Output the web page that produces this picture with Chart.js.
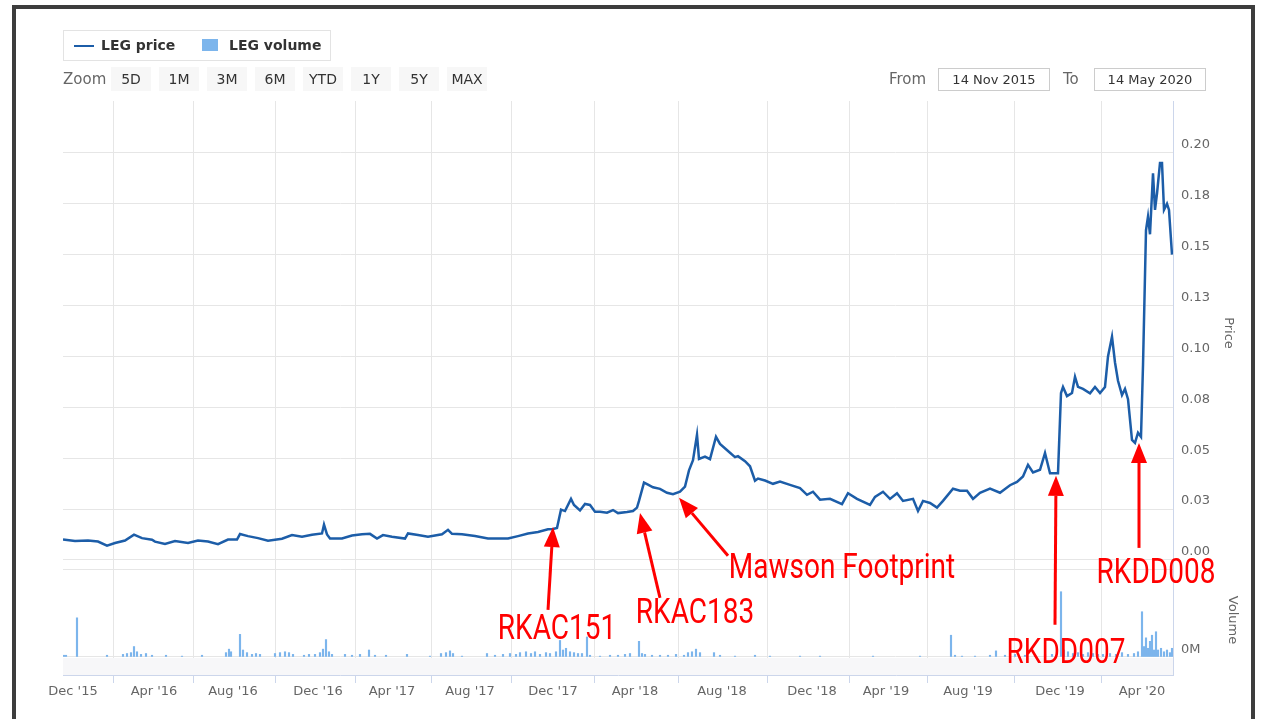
<!DOCTYPE html>
<html>
<head>
<meta charset="utf-8">
<script src="https://cdn.jsdelivr.net/npm/chart.js@4.4.1/dist/chart.umd.min.js"></script>
<style>
  html, body { margin: 0; padding: 0; background: #fff; }
  body { width: 1266px; height: 719px; position: relative; overflow: hidden; font-family: "DejaVu Sans", sans-serif; }
  #frame { position: absolute; left: 12px; top: 5px; width: 1235px; height: 760px; border: 4px solid #3d3d3d; }
  #chart { position: absolute; left: 0; top: 0; }
  .legend { position: absolute; left: 63px; top: 30px; width: 266px; height: 29px; border: 1px solid #e3e3e3; background: #fff; font-size: 14px; font-weight: bold; color: #333; }
  .legend span { position: absolute; top: 6px; }
  .lg-line { position: absolute; left: 10px; top: 14px; width: 20px; height: 2px; background: #1c5da8; }
  .lg-box { position: absolute; left: 138px; top: 8px; width: 16px; height: 12px; background: #7cb5ec; }
  .zoomrow { position: absolute; top: 67px; font-size: 15px; color: #666; }
  .btn { position: absolute; top: 67px; height: 24px; line-height: 24px; background: #f7f7f7; color: #333; font-size: 14px; text-align: center; }
  .inp { position: absolute; top: 68px; height: 21px; line-height: 21px; border: 1px solid #ccc; color: #333; font-size: 13px; text-align: center; background: #fff; }
</style>
</head>
<body>
<div id="frame"></div>
<canvas id="chart" width="1266" height="719"></canvas>

<div class="legend">
  <div class="lg-line"></div><span style="left:37px">LEG price</span>
  <div class="lg-box"></div><span style="left:165px">LEG volume</span>
</div>
<div class="zoomrow" style="left:63px;line-height:24px">Zoom</div>
<div id="buttons"></div>
<div class="zoomrow" style="left:889px;line-height:24px">From</div>
<div class="inp" style="left:938px;width:110px">14 Nov 2015</div>
<div class="zoomrow" style="left:1063px;line-height:24px">To</div>
<div class="inp" style="left:1094px;width:110px">14 May 2020</div>

<script>
// session index = trading-day position on the (ordinal) stock axis
const tickSessions = [10, 91, 170, 255, 329, 407, 490, 572, 659, 749, 823, 905, 997, 1079];
const tickLabels = ["Dec '15", "Apr '16", "Aug '16", "Dec '16", "Apr '17", "Aug '17", "Dec '17",
  "Apr '18", "Aug '18", "Dec '18", "Apr '19", "Aug '19", "Dec '19", "Apr '20"];

const priceTicks = [0, 0.025, 0.05, 0.075, 0.1, 0.125, 0.15, 0.175, 0.2];
const priceTickLabels = ["0.00", "0.03", "0.05", "0.08", "0.10", "0.13", "0.15", "0.18", "0.20"];

const priceSession = [0, 12, 25, 35, 44, 52, 62, 71, 79, 89, 92, 102, 112, 125, 135, 145, 155, 165, 174, 177,
  185, 195, 205, 219, 229, 239, 249, 259, 261, 264, 267, 279, 289, 299, 307, 314, 320, 329, 342, 345,
  355, 365, 379, 385, 389, 399, 412, 425, 437, 445, 455, 465, 475, 485, 490, 494, 498, 502, 508, 511,
  517, 522, 527, 532, 537, 544, 550, 555, 564, 570, 574, 576, 581, 585, 590, 597, 604, 610, 617, 622,
  626, 630, 634, 636, 642, 647, 653, 657, 665, 672, 675, 682, 687, 692, 695, 702, 710, 717, 727, 737,
  744, 750, 757, 767, 779, 785, 794, 807, 812, 820, 827, 834, 840, 850, 855, 860, 867, 874, 880, 890,
  897, 904, 910, 917, 927, 937, 947, 954, 960, 965, 970, 977, 982, 987, 995, 998, 1000, 1004, 1009, 1012,
  1015, 1020, 1027, 1032, 1037, 1042, 1045, 1049, 1052, 1055, 1059, 1062, 1065, 1069, 1072, 1075, 1078, 1080, 1083, 1085,
  1087, 1090, 1092, 1094, 1097, 1099, 1101, 1104, 1106, 1109];
const priceValue = [0.010, 0.0093, 0.0095, 0.009, 0.007, 0.0083, 0.0095, 0.0124, 0.0107, 0.0099, 0.009, 0.0078, 0.0093, 0.0083, 0.0095, 0.009, 0.0077, 0.010, 0.010, 0.0127,
  0.0117, 0.0107, 0.0094, 0.0104, 0.0122, 0.0114, 0.0124, 0.013, 0.0173, 0.0125, 0.0105, 0.0105, 0.012, 0.0126, 0.0128, 0.0105, 0.0122, 0.0114, 0.0105, 0.013,
  0.0122, 0.0114, 0.0126, 0.0148, 0.0128, 0.0126, 0.0117, 0.0105, 0.0105, 0.0105, 0.0117, 0.013, 0.0137, 0.0151, 0.0152, 0.0157, 0.0247, 0.024, 0.030, 0.027,
  0.0243, 0.0275, 0.027, 0.0237, 0.0237, 0.0232, 0.0245, 0.023, 0.0235, 0.024, 0.0257, 0.029, 0.038, 0.037, 0.0357, 0.0349, 0.033, 0.0323, 0.0335, 0.036,
  0.044, 0.049, 0.0615, 0.0496, 0.0508, 0.0495, 0.0605, 0.057, 0.0535, 0.0505, 0.051, 0.0485, 0.046, 0.0389, 0.040, 0.039, 0.0374, 0.0385, 0.0369, 0.0353,
  0.032, 0.0335, 0.0296, 0.030, 0.0274, 0.0328, 0.030, 0.027, 0.031, 0.0335, 0.030, 0.0328, 0.029, 0.030, 0.024, 0.029, 0.028, 0.0257, 0.029, 0.035,
  0.034, 0.034, 0.030, 0.033, 0.035, 0.033, 0.0367, 0.0383, 0.041, 0.0467, 0.043, 0.0443, 0.0525, 0.0426, 0.0426, 0.082, 0.085, 0.0805, 0.082, 0.090,
  0.085, 0.084, 0.0819, 0.085, 0.082, 0.085, 0.100, 0.1097, 0.097, 0.088, 0.081, 0.084, 0.079, 0.059, 0.0575, 0.0625, 0.0605, 0.0955, 0.162, 0.1687,
  0.160, 0.19, 0.172, 0.180, 0.195, 0.195, 0.172, 0.175, 0.172, 0.150];

// volume in millions of shares
const volSession = [1, 3, 14, 44, 60, 64, 68, 71, 74, 78, 83, 89, 103, 119, 139, 163, 166, 168, 177, 180,
  184, 189, 193, 197, 212, 217, 222, 226, 230, 241, 246, 252, 257, 260, 263, 266, 269, 282, 289, 297,
  306, 312, 323, 344, 367, 378, 383, 387, 390, 399, 424, 432, 440, 447, 453, 457, 463, 468, 472, 477,
  483, 487, 493, 497, 500, 503, 507, 511, 515, 519, 524, 527, 537, 547, 555, 562, 567, 576, 579, 582,
  589, 597, 605, 613, 621, 625, 629, 633, 637, 651, 657, 672, 692, 707, 737, 757, 810, 857, 888, 892,
  899, 912, 927, 933, 942, 952, 962, 972, 982, 989, 998, 1001, 1005, 1010, 1015, 1020, 1025, 1030, 1035, 1040,
  1047, 1053, 1059, 1065, 1071, 1075, 1079, 1081, 1083, 1085, 1087, 1089, 1091, 1093, 1095, 1098, 1101, 1104, 1107, 1109];
const volValue = [0.2, 0.2, 4.5, 0.2, 0.3, 0.4, 0.5, 1.2, 0.6, 0.3, 0.4, 0.2, 0.2, 0.1, 0.2, 0.5, 0.9, 0.6, 2.6, 0.8,
  0.5, 0.3, 0.4, 0.3, 0.4, 0.5, 0.6, 0.5, 0.3, 0.2, 0.3, 0.3, 0.5, 0.9, 2.0, 0.6, 0.3, 0.3, 0.2, 0.3,
  0.8, 0.2, 0.2, 0.3, 0.1, 0.4, 0.5, 0.7, 0.4, 0.1, 0.4, 0.2, 0.3, 0.4, 0.3, 0.5, 0.6, 0.4, 0.6, 0.3,
  0.5, 0.4, 0.6, 1.9, 0.8, 1.0, 0.6, 0.5, 0.4, 0.4, 2.3, 0.2, 0.1, 0.2, 0.2, 0.3, 0.4, 1.8, 0.4, 0.3,
  0.2, 0.2, 0.2, 0.3, 0.2, 0.5, 0.6, 0.9, 0.5, 0.5, 0.2, 0.1, 0.2, 0.1, 0.1, 0.1, 0.1, 0.1, 2.5, 0.2,
  0.1, 0.1, 0.2, 0.7, 0.2, 0.3, 0.2, 0.2, 0.3, 0.3, 7.5, 0.8, 0.6, 0.4, 0.5, 0.3, 0.5, 0.4, 0.3, 0.3,
  0.4, 0.3, 0.5, 0.3, 0.4, 0.6, 5.2, 1.2, 2.2, 1.0, 1.8, 2.5, 0.8, 2.9, 0.8, 1.0, 0.6, 0.8, 0.5, 1.0];

const volTicks = [0, 10];
const volTickLabels = ["0M", ""];

const rangeButtons = ["5D", "1M", "3M", "6M", "YTD", "1Y", "5Y", "MAX"];

// red call-outs: tip sits on the price line; tail and label are offsets from the tip
const notes = [
  { text: "RKAC151", session: 490, price: 0.0162, tail: [-5, 83], label: [4, 103] },
  { text: "RKAC183", session: 577, price: 0.0231, tail: [20, 85], label: [55, 101] },
  { text: "Mawson Footprint", session: 616, price: 0.0305, tail: [49, 58], label: [163, 71] },
  { text: "RKDD007", session: 993, price: 0.0413, tail: [-1, 149], label: [10, 178] },
  { text: "RKDD008", session: 1076, price: 0.0575, tail: [0, 105], label: [17, 131] },
];

// range selector buttons, 48px apart
const btnBox = document.getElementById("buttons");
rangeButtons.forEach((b, i) => {
  const d = document.createElement("div");
  d.className = "btn";
  d.style.left = 111 + i * 48 + "px";
  d.style.width = "40px";
  d.textContent = b;
  btnBox.appendChild(d);
});

const grayBand = {
  id: "grayBand",
  beforeDatasetsDraw(chart) {
    const { ctx, chartArea } = chart;
    const yv = chart.scales.yVol;
    const y0 = yv.getPixelForValue(0) + 1;
    ctx.save();
    ctx.fillStyle = "#f7f7f9";
    ctx.fillRect(chartArea.left, y0, chartArea.right - chartArea.left, yv.bottom - y0);
    ctx.restore();
  },
};

const callouts = {
  id: "callouts",
  afterDraw(chart) {
    const { ctx } = chart;
    const xs = chart.scales.x, ys = chart.scales.yPrice;
    ctx.save();
    ctx.strokeStyle = "#ff0000";
    ctx.fillStyle = "#ff0000";
    ctx.lineWidth = 3;
    notes.forEach((n) => {
      const tx = xs.getPixelForValue(n.session);
      const ty = ys.getPixelForValue(n.price);
      const bx = tx + n.tail[0], by = ty + n.tail[1];
      const ang = Math.atan2(ty - by, tx - bx);
      const hl = 20, hw = 8;
      const hx = tx - hl * Math.cos(ang), hy = ty - hl * Math.sin(ang);
      ctx.beginPath();
      ctx.moveTo(bx, by);
      ctx.lineTo(hx, hy);
      ctx.stroke();
      ctx.beginPath();
      ctx.moveTo(tx, ty);
      ctx.lineTo(hx + hw * Math.sin(ang), hy - hw * Math.cos(ang));
      ctx.lineTo(hx - hw * Math.sin(ang), hy + hw * Math.cos(ang));
      ctx.closePath();
      ctx.fill();
      // condensed look: squeeze a regular sans horizontally
      ctx.save();
      ctx.translate(tx + n.label[0], ty + n.label[1]);
      ctx.scale(0.8, 1);
      ctx.font = "35px Roboto, sans-serif";
      ctx.textAlign = "center";
      ctx.textBaseline = "middle";
      ctx.fillText(n.text, 0, 0);
      ctx.restore();
    });
    ctx.restore();
  },
};

const axisFont = { family: "DejaVu Sans", size: 13 };

new Chart(document.getElementById("chart"), {
  data: {
    datasets: [
      {
        type: "line",
        label: "LEG price",
        data: priceSession.map((s, i) => ({ x: s, y: priceValue[i] })),
        borderColor: "#1c5da8",
        borderWidth: 2.5,
        pointRadius: 0,
        tension: 0,
        yAxisID: "yPrice",
      },
      {
        type: "bar",
        label: "LEG volume",
        data: volSession.map((s, i) => ({ x: s, y: volValue[i] })),
        backgroundColor: "#7cb5ec",
        barThickness: 1.5,
        yAxisID: "yVol",
      },
    ],
  },
  plugins: [grayBand, callouts],
  options: {
    responsive: false,
    animation: false,
    layout: { padding: { left: 63, top: 101, right: 26, bottom: 14 } },
    plugins: { legend: { display: false }, tooltip: { enabled: false } },
    scales: {
      x: {
        type: "linear",
        min: 0,
        max: 1110,
        offset: false,
        afterBuildTicks: (axis) => { axis.ticks = tickSessions.map((v) => ({ value: v })); },
        afterFit: (axis) => { axis.height = 30; },
        ticks: {
          autoSkip: false,
          maxRotation: 0,
          padding: 1,
          color: "#666",
          font: axisFont,
          callback: (v) => tickLabels[tickSessions.indexOf(v)],
        },
        grid: { color: "#e6e6e6", tickColor: "#ccd6eb", tickLength: 8, drawTicks: true },
        border: { color: "#ccd6eb" },
      },
      yPrice: {
        type: "linear",
        position: "right",
        stack: "panes",
        stackWeight: 464,
        min: -0.0025,
        max: 0.2255,
        afterBuildTicks: (axis) => { axis.ticks = priceTicks.map((v) => ({ value: v })); },
        afterFit: (axis) => { axis.width = 67; },
        ticks: {
          color: "#666",
          font: axisFont,
          padding: 8,
          labelOffset: -8,
          callback: (v) => priceTickLabels[priceTicks.indexOf(v)],
        },
        grid: { color: "#e6e6e6", drawTicks: false },
        border: { color: "#ccd6eb" },
        title: { display: true, text: "Price", color: "#666", font: axisFont, padding: { top: 4, bottom: 4 } },
      },
      yVol: {
        type: "linear",
        position: "right",
        stack: "panes",
        stackWeight: 110,
        min: -2.07,
        max: 10.57,
        afterBuildTicks: (axis) => { axis.ticks = volTicks.map((v) => ({ value: v })); },
        afterFit: (axis) => { axis.width = 67; },
        ticks: {
          color: "#666",
          font: axisFont,
          padding: 8,
          labelOffset: -7,
          callback: (v) => volTickLabels[volTicks.indexOf(v)],
        },
        grid: { color: "#e6e6e6", drawTicks: false },
        border: { color: "#ccd6eb" },
        title: { display: true, text: "Volume", color: "#666", font: axisFont, padding: { top: 0, bottom: 4 } },
      },
    },
  },
});
</script>
</body>
</html>
